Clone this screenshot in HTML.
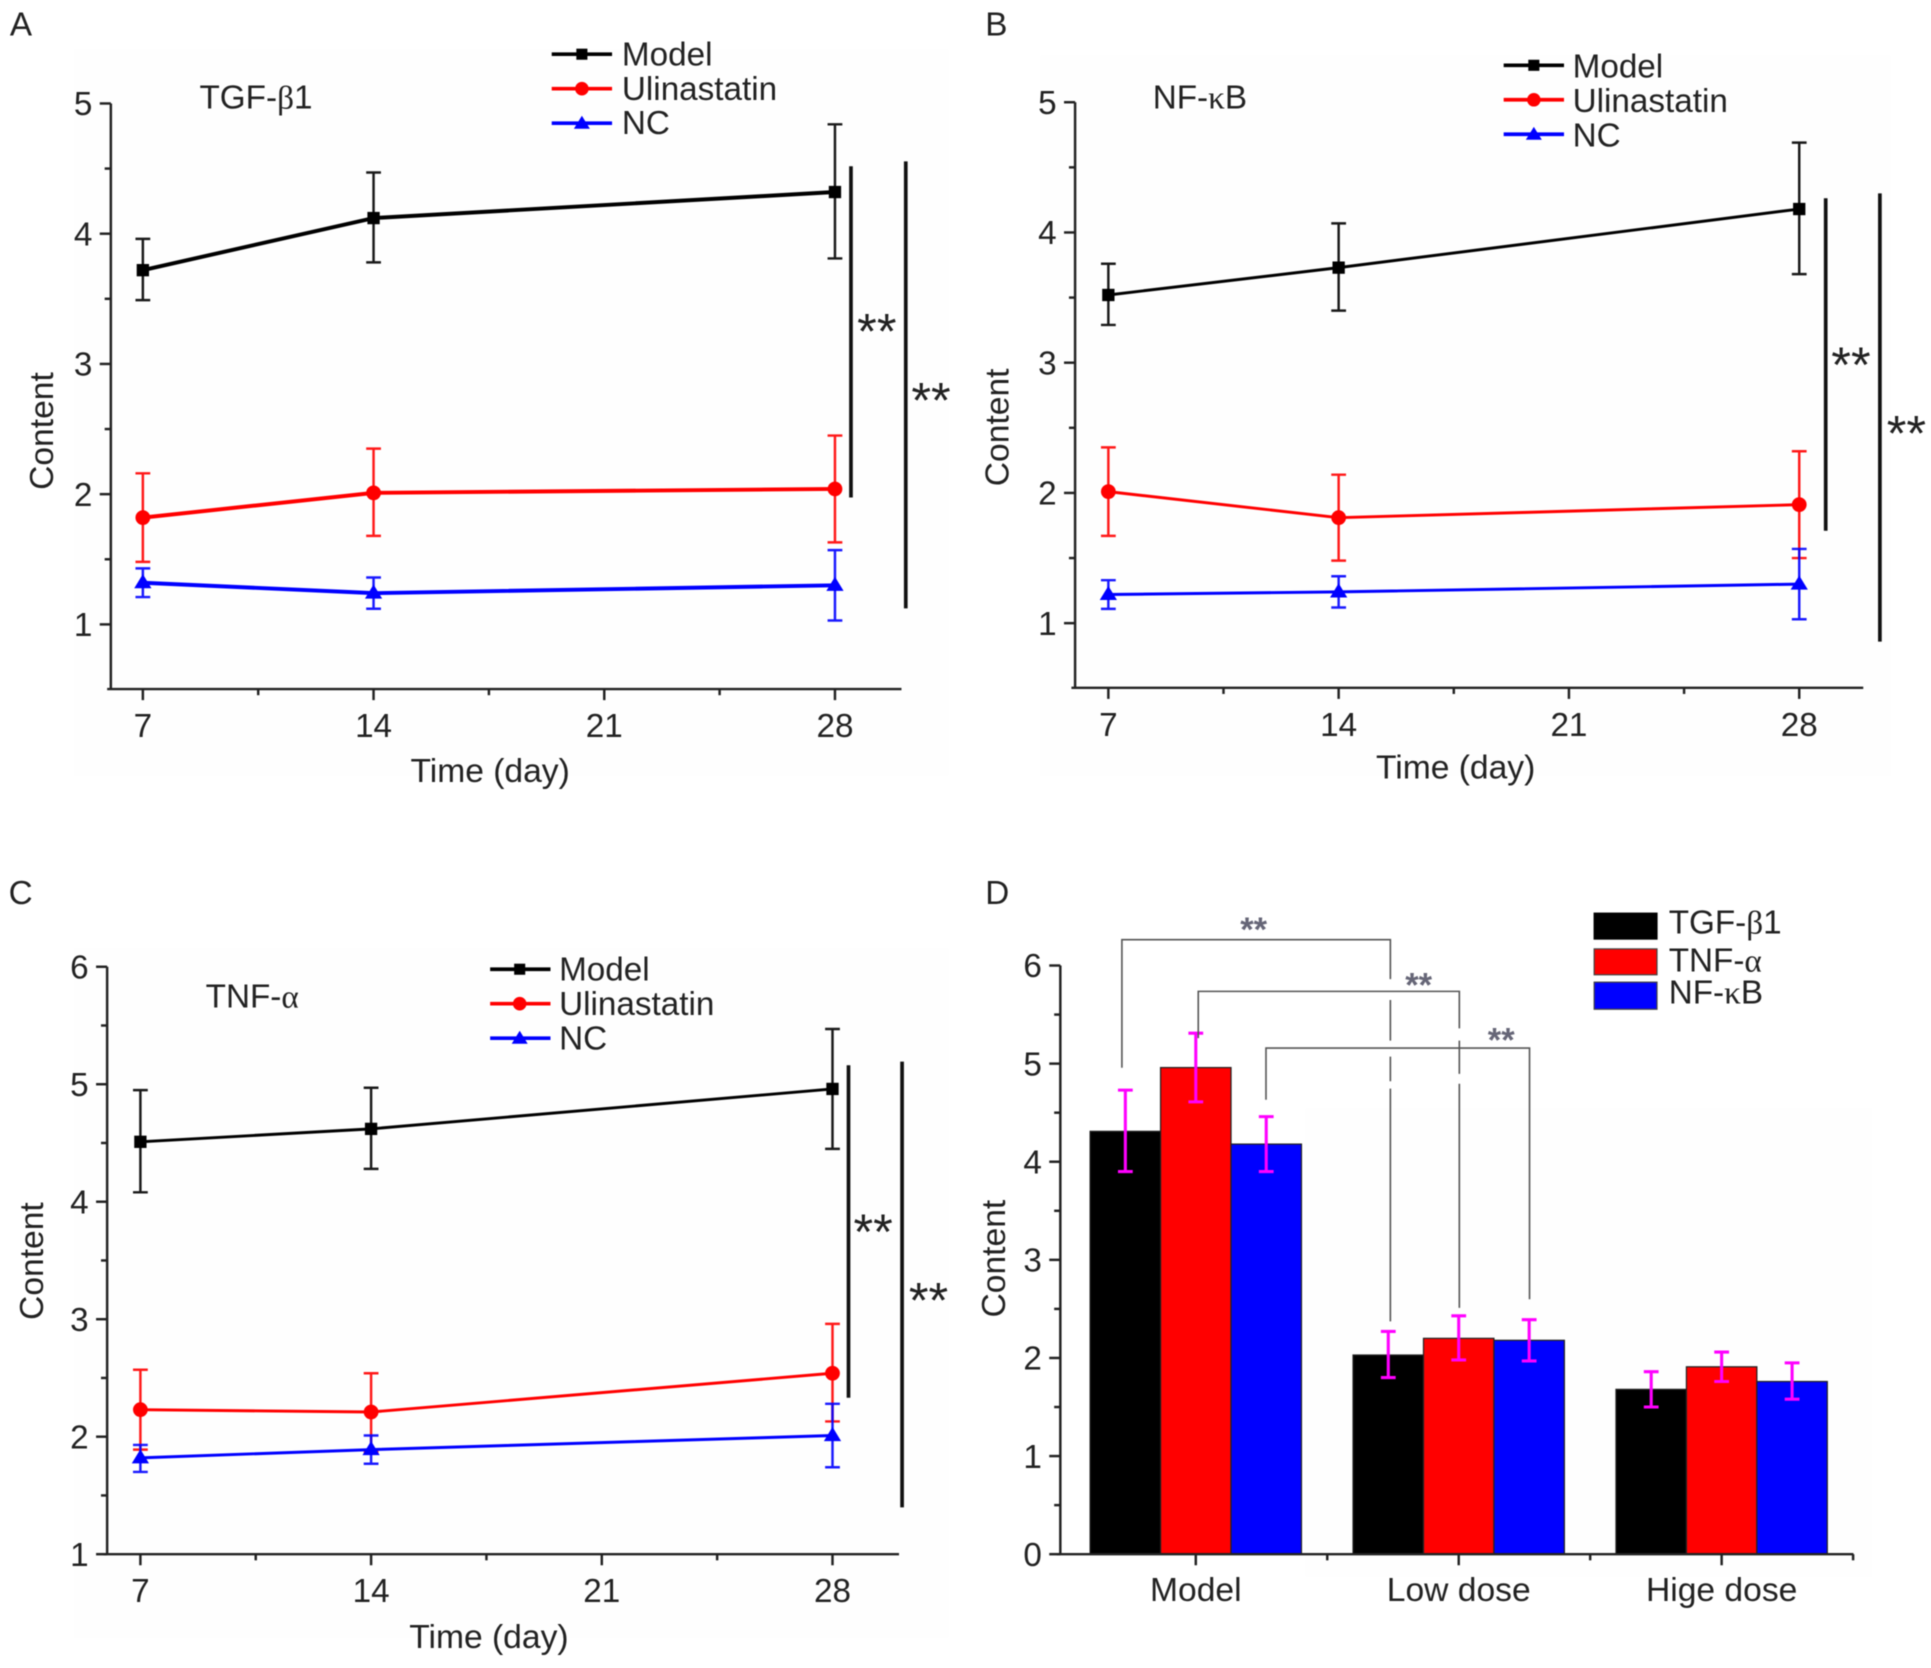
<!DOCTYPE html>
<html lang="en">
<head>
<meta charset="utf-8">
<title>Content over time by treatment</title>
<style>
html,body{margin:0;padding:0;background:#fff;width:1931px;height:1668px;overflow:hidden}
svg{display:block;filter:blur(.5px)}
text{font-family:"Liberation Sans",sans-serif;fill:#222}
.t{font-size:27px}
.g{font-family:"Liberation Serif",serif}
</style>
</head>
<body>
<svg id="fig" xmlns="http://www.w3.org/2000/svg" width="1931" height="1668" viewBox="0 0 1568 1354.4">
<rect width="1568" height="1354.4" fill="#fff"/>
<rect x="60" y="40" width="710" height="590" fill="#fefefe"/>
<rect x="845" y="45" width="690" height="585" fill="#fefefe"/>
<rect x="60" y="770" width="710" height="560" fill="#fefefe"/>
<rect x="1060" y="900" width="460" height="380" fill="#fefefe"/>

<g id="marks"></g>

<g class="t">
<text x="8" y="29" class="t">A</text>
<text x="800" y="29" class="t">B</text>
<text x="7" y="734" class="t">C</text>
<text x="800" y="734" class="t">D</text>
</g>

<g>
<text x="162" y="88" class="t">TGF-<tspan class="g">β</tspan>1</text>
<text x="936" y="88" class="t">NF-<tspan class="g">κ</tspan>B</text>
<text x="167" y="818" class="t">TNF-<tspan class="g">α</tspan></text>
</g>

<g font-size="27.300">
<text x="398" y="635" text-anchor="middle" font-size="27.300">Time (day)</text>
<text x="1182" y="632" text-anchor="middle" font-size="27.300">Time (day)</text>
<text x="397" y="1338" text-anchor="middle" font-size="27.300">Time (day)</text>
<text transform="translate(43 350) rotate(-90)" text-anchor="middle" font-size="27.300">Content</text>
<text transform="translate(819 347) rotate(-90)" text-anchor="middle" font-size="27.300">Content</text>
<text transform="translate(35 1024) rotate(-90)" text-anchor="middle" font-size="27.300">Content</text>
<text transform="translate(816 1022) rotate(-90)" text-anchor="middle" font-size="27.300">Content</text>
</g>

<g>
<g><path d="M448 44H497" stroke="#000" stroke-width="3"/><rect x="468" y="39.500" width="9" height="9" fill="#000"/><text x="505" y="53" class="t">Model</text></g>
<g><path d="M448 72H497" stroke="#f00" stroke-width="3"/><circle cx="472.500" cy="72" r="5.500" fill="#f00"/><text x="505" y="81" class="t">Ulinastatin</text></g>
<g><path d="M448 100H497" stroke="#00f" stroke-width="3"/><path d="M472.500 94l6.500 10.500h-13z" fill="#00f"/><text x="505" y="109" class="t">NC</text></g>
</g>
<g>
<g><path d="M1221 53H1270" stroke="#000" stroke-width="3"/><rect x="1241" y="48.500" width="9" height="9" fill="#000"/><text x="1277" y="63" class="t">Model</text></g>
<g><path d="M1221 81H1270" stroke="#f00" stroke-width="3"/><circle cx="1245.500" cy="81" r="5.500" fill="#f00"/><text x="1277" y="91" class="t">Ulinastatin</text></g>
<g><path d="M1221 109H1270" stroke="#00f" stroke-width="3"/><path d="M1245.500 103l6.500 10.500h-13z" fill="#00f"/><text x="1277" y="119" class="t">NC</text></g>
</g>
<g>
<g><path d="M398 787H447" stroke="#000" stroke-width="3"/><rect x="417.500" y="782.500" width="9" height="9" fill="#000"/><text x="454" y="796" class="t">Model</text></g>
<g><path d="M398 815H447" stroke="#f00" stroke-width="3"/><circle cx="422" cy="815" r="5.500" fill="#f00"/><text x="454" y="824" class="t">Ulinastatin</text></g>
<g><path d="M398 843H447" stroke="#00f" stroke-width="3"/><path d="M422 837l6.500 10.500h-13z" fill="#00f"/><text x="454" y="852" class="t">NC</text></g>
</g>
<g>
<g><rect x="1294" y="741" width="52" height="22" fill="#000"/><text x="1355" y="758" class="t">TGF-<tspan class="g">β</tspan>1</text></g>
<g><rect x="1294.500" y="770.500" width="51" height="21" fill="#f00" stroke="#444"/><text x="1355" y="789" class="t">TNF-<tspan class="g">α</tspan></text></g>
<g><rect x="1294.500" y="797.500" width="51" height="22" fill="#00f" stroke="#444"/><text x="1355" y="815" class="t">NF-<tspan class="g">κ</tspan>B</text></g>
</g>

<g>
<path d="M691 135V404" stroke="#111" stroke-width="3"/>
<path d="M735.500 131V494" stroke="#111" stroke-width="3"/>
<text x="712" y="283" text-anchor="middle" font-size="41">**</text>
<text x="756" y="339" text-anchor="middle" font-size="41">**</text>
</g>
<g>
<path d="M1482.500 161V431" stroke="#111" stroke-width="3"/>
<path d="M1526.500 157V521" stroke="#111" stroke-width="3"/>
<text x="1503" y="310" text-anchor="middle" font-size="41">**</text>
<text x="1548" y="366" text-anchor="middle" font-size="41">**</text>
</g>
<g>
<path d="M689 865V1135" stroke="#111" stroke-width="3"/>
<path d="M732.500 862V1224" stroke="#111" stroke-width="3"/>
<text x="709" y="1014" text-anchor="middle" font-size="41">**</text>
<text x="754" y="1070" text-anchor="middle" font-size="41">**</text>
</g>
<g fill="none" stroke="#555" stroke-width="1.300">
<path d="M911 867V763H1129V795M1129 812V845M1129 858V878M1129 884V1073"/>
<path d="M973 843V805H1185V835M1185 845V872M1185 880V1062"/>
<path d="M1028 893V851H1242V1055"/>
</g>
<g>
<text x="1018" y="764" text-anchor="middle" font-size="28" font-weight="bold" style="fill:#667">**</text>
<text x="1152" y="809" text-anchor="middle" font-size="28" font-weight="bold" style="fill:#667">**</text>
<text x="1219" y="854" text-anchor="middle" font-size="28" font-weight="bold" style="fill:#667">**</text>
</g>
</svg>

<script>
// ---- Chart data ----
const days = [7, 14, 28];
const xTickLabels = [7, 14, 21, 28];
const yTicksAB = [1, 2, 3, 4, 5];
const yTicksC = [1, 2, 3, 4, 5, 6];
const yTicksD = [0, 1, 2, 3, 4, 5, 6];

const aModel = [3.72, 4.12, 4.32];
const aModelHi = [3.96, 4.47, 4.84];
const aModelLo = [3.49, 3.78, 3.81];
const aUlin = [1.82, 2.01, 2.04];
const aUlinHi = [2.16, 2.35, 2.45];
const aUlinLo = [1.48, 1.68, 1.63];
const aNC = [1.32, 1.24, 1.30];
const aNCHi = [1.43, 1.36, 1.57];
const aNCLo = [1.21, 1.12, 1.03];

const bModel = [3.52, 3.73, 4.18];
const bModelHi = [3.76, 4.07, 4.69];
const bModelLo = [3.29, 3.40, 3.68];
const bUlin = [2.01, 1.81, 1.91];
const bUlinHi = [2.35, 2.14, 2.32];
const bUlinLo = [1.67, 1.48, 1.50];
const bNC = [1.22, 1.24, 1.30];
const bNCHi = [1.33, 1.36, 1.57];
const bNCLo = [1.11, 1.12, 1.03];

const cModel = [4.51, 4.62, 4.96];
const cModelHi = [4.95, 4.97, 5.47];
const cModelLo = [4.08, 4.28, 4.45];
const cUlin = [2.23, 2.21, 2.54];
const cUlinHi = [2.57, 2.54, 2.96];
const cUlinLo = [1.89, 1.87, 2.13];
const cNC = [1.82, 1.89, 2.01];
const cNCHi = [1.93, 2.01, 2.28];
const cNCLo = [1.70, 1.77, 1.74];

const dGroups = ['Model', 'Low dose', 'Hige dose'];
const dTGF = [4.31, 2.03, 1.68];
const dTGFHi = [4.73, 2.27, 1.86];
const dTGFLo = [3.90, 1.80, 1.50];
const dTNF = [4.96, 2.20, 1.91];
const dTNFHi = [5.31, 2.43, 2.06];
const dTNFLo = [4.61, 1.98, 1.76];
const dNFKB = [4.18, 2.18, 1.76];
const dNFKBHi = [4.46, 2.39, 1.95];
const dNFKBLo = [3.90, 1.97, 1.58];

// ---- Drawing ----
const NS = 'http://www.w3.org/2000/svg';
const root = document.getElementById('marks');
function mk(tag, attrs, parent) {
  const n = document.createElementNS(NS, tag);
  for (const k in attrs) n.setAttribute(k, attrs[k]);
  (parent || root).appendChild(n);
  return n;
}

function drawAxes(p, name) {
  const g = mk('g', {});
  
  
  const yAxis = mk('path', {d: 'M' + p.ax + ' ' + p.yOf(p.yTop) + 'V' + p.bottom, stroke: '#222', 'stroke-width': 2, fill: 'none'}, g);
  
  
  const xAxis = mk('path', {d: 'M' + (p.ax - 3) + ' ' + p.bottom + 'H' + p.right, stroke: '#222', 'stroke-width': 2, fill: 'none'}, g);
  
  
  p.yTicks.forEach(function (v, i) {
    const tick = mk('path', {d: 'M' + (p.ax - 9) + ' ' + p.yOf(v) + 'H' + p.ax, stroke: '#222', 'stroke-width': 2}, g);
    
    
    const lab = mk('text', {x: p.ax - 15, y: p.yOf(v) + 9.5, 'text-anchor': 'end', 'font-size': 27}, g);
    lab.textContent = v;
    
    
    if (i < p.yTicks.length - 1) {
      const minor = mk('path', {d: 'M' + (p.ax - 5) + ' ' + p.yOf(v + 0.5) + 'H' + p.ax, stroke: '#222', 'stroke-width': 2}, g);
      
      
    }
  });
  return g;
}

function drawLinePanel(p, name) {
  p.yOf = function (v) { return p.y1 + (v - p.yBase) * (p.y2 - p.y1) / (p.yTop - p.yBase); };
  p.xOf = function (d) { return p.x7 + (d - 7) * (p.x28 - p.x7) / 21; };
  const g = drawAxes(p, name);
  xTickLabels.forEach(function (d) {
    const tick = mk('path', {d: 'M' + p.xOf(d) + ' ' + p.bottom + 'v9', stroke: '#222', 'stroke-width': 2}, g);
    
    
    const lab = mk('text', {x: p.xOf(d), y: p.bottom + 39, 'text-anchor': 'middle', 'font-size': 27}, g);
    lab.textContent = d;
    
    
    if (p.xOf(d + 3.5) <= p.right) {
      const minor = mk('path', {d: 'M' + p.xOf(d + 3.5) + ' ' + p.bottom + 'v5', stroke: '#222', 'stroke-width': 2}, g);
      
      
    }
  });
  p.series.forEach(function (s) {
    const sg = mk('g', {});
    
    
    const line = mk('polyline', {points: days.map(function (d, i) { return p.xOf(d) + ',' + p.yOf(s.vals[i]); }).join(' '), fill: 'none', stroke: s.color, 'stroke-width': s.w}, sg);
    
    
    days.forEach(function (d, i) {
      const x = p.xOf(d), hi = p.yOf(s.hi[i]), lo = p.yOf(s.lo[i]), y = p.yOf(s.vals[i]);
      const err = mk('path', {d: 'M' + x + ' ' + hi + 'V' + lo + 'M' + (x - 6) + ' ' + hi + 'h12M' + (x - 6) + ' ' + lo + 'h12', stroke: s.color, 'stroke-width': 2, fill: 'none', opacity: 0.9}, sg);
      
      
      let m;
      if (s.shape === 'square') m = mk('rect', {x: x - 5, y: y - 5, width: 10, height: 10, fill: s.color}, sg);
      else if (s.shape === 'circle') m = mk('circle', {cx: x, cy: y, r: 6, fill: s.color}, sg);
      else m = mk('path', {d: 'M' + x + ' ' + (y - 7) + 'l7 11.500h-14z', fill: s.color}, sg);
      
      
    });
  });
}

function drawBarPanel(p, name) {
  p.yOf = function (v) { return p.y1 + (v - p.yBase) * (p.y2 - p.y1) / (p.yTop - p.yBase); };
  p.xOf = function (gi) { return p.x0 + gi * p.step; };
  const g = drawAxes(p, name);
  const barW = 57.2;
  p.bars.forEach(function (s, si) {
    dGroups.forEach(function (gName, gi) {
      const x = p.xOf(gi) + (si - 1.5) * barW;
      const top = p.yOf(s.vals[gi]);
      const b = mk('rect', {x: x, y: top, width: barW, height: p.bottom - top, fill: s.color, stroke: '#222', 'stroke-width': 1});
      
      
    });
  });
  p.bars.forEach(function (s, si) {
    dGroups.forEach(function (gName, gi) {
      const cx = p.xOf(gi) + (si - 1) * barW;
      const hi = p.yOf(s.hi[gi]), lo = p.yOf(s.lo[gi]);
      const err = mk('path', {d: 'M' + cx + ' ' + hi + 'V' + lo + 'M' + (cx - 6) + ' ' + hi + 'h12M' + (cx - 6) + ' ' + lo + 'h12', stroke: '#f0f', 'stroke-width': 2.500, fill: 'none'});
      
      
    });
  });
  dGroups.forEach(function (gName, gi) {
    const x = p.xOf(gi);
    const tick = mk('path', {d: 'M' + x + ' ' + p.bottom + 'v9', stroke: '#222', 'stroke-width': 2}, g);
    
    
    const lab = mk('text', {x: x, y: p.bottom + 38, 'text-anchor': 'middle', 'font-size': 27.3}, g);
    lab.textContent = gName;
    
    
    const minor = mk('path', {d: 'M' + (x + p.step / 2) + ' ' + p.bottom + 'v5', stroke: '#222', 'stroke-width': 2}, g);
    
    
  });
  root.appendChild(g);
}

function lineSeries(m, mh, ml, u, uh, ul, n, nh, nl, w) {
  return [
    {label: 'model', color: '#000', shape: 'square', w: w, vals: m, hi: mh, lo: ml},
    {label: 'ulinastatin', color: '#f00', shape: 'circle', w: w, vals: u, hi: uh, lo: ul},
    {label: 'nc', color: '#00f', shape: 'triangle', w: w, vals: n, hi: nh, lo: nl}
  ];
}

drawLinePanel({ax: 90, x7: 116, x28: 678, right: 732, bottom: 559.500, yBase: 1, yTop: 5, y1: 507, y2: 84, yTicks: yTicksAB,
  series: lineSeries(aModel, aModelHi, aModelLo, aUlin, aUlinHi, aUlinLo, aNC, aNCHi, aNCLo, 3.200)}, 'panel-a');
drawLinePanel({ax: 873, x7: 900, x28: 1461, right: 1513, bottom: 558.500, yBase: 1, yTop: 5, y1: 506, y2: 83, yTicks: yTicksAB,
  series: lineSeries(bModel, bModelHi, bModelLo, bUlin, bUlinHi, bUlinLo, bNC, bNCHi, bNCLo, 2.400)}, 'panel-b');
drawLinePanel({ax: 87, x7: 114, x28: 676, right: 730, bottom: 1262, yBase: 1, yTop: 6, y1: 1262, y2: 785, yTicks: yTicksC,
  series: lineSeries(cModel, cModelHi, cModelLo, cUlin, cUlinHi, cUlinLo, cNC, cNCHi, cNCLo, 2.400)}, 'panel-c');
drawBarPanel({ax: 861, x0: 971, step: 213.500, right: 1505, bottom: 1262, yBase: 0, yTop: 6, y1: 1262, y2: 784, yTicks: yTicksD,
  bars: [
    {label: 'tgf', color: '#000', vals: dTGF, hi: dTGFHi, lo: dTGFLo},
    {label: 'tnf', color: '#f00', vals: dTNF, hi: dTNFHi, lo: dTNFLo},
    {label: 'nfkb', color: '#00f', vals: dNFKB, hi: dNFKBHi, lo: dNFKBLo}
  ]}, 'panel-d');
</script>
</body>
</html>
